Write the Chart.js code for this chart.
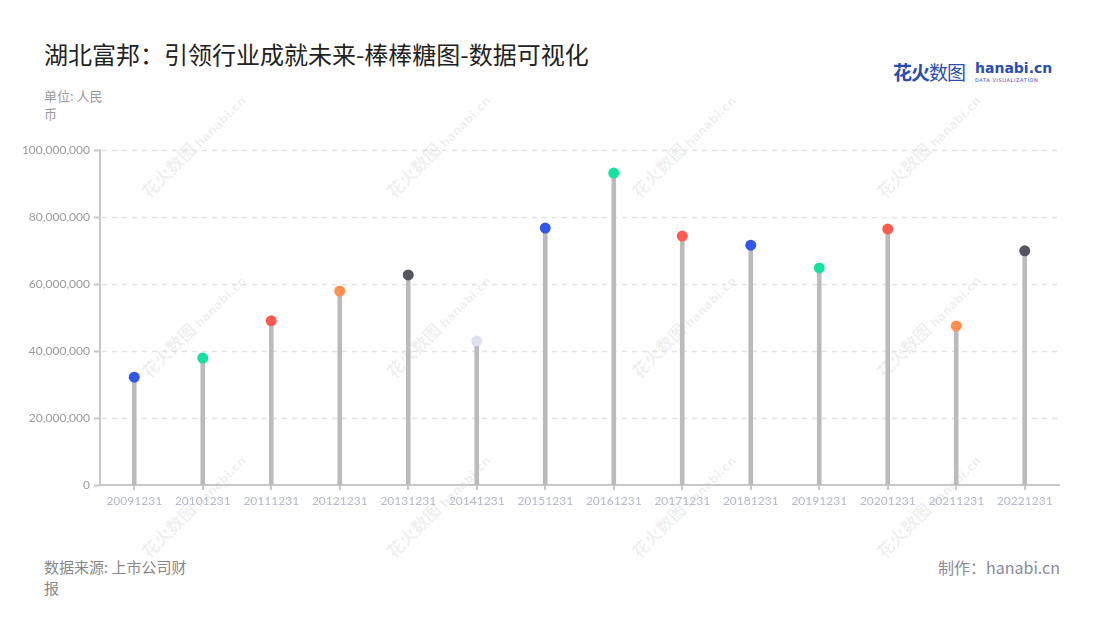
<!DOCTYPE html>
<html>
<head>
<meta charset="utf-8">
<script src="https://cdn.jsdelivr.net/npm/chart.js@4"></script>
<style>
    body { margin: 0; width: 1100px; height: 620px; background: #fff; position: relative; overflow: hidden;
           font-family: "Noto Sans CJK SC", "Noto Sans", sans-serif; }
    .title { position: absolute; left: 44px; top: 36px; font-size: 24px; color: #222; }
    .unit { position: absolute; left: 44px; top: 87px; width: 70px; font-size: 13px; line-height: 18px; color: #999; }
    .source { position: absolute; left: 44px; top: 556px; width: 150px; font-size: 15px; line-height: 21px; color: #888; }
    .maker { position: absolute; right: 40px; top: 555px; font-size: 16px; color: #8a8a98; }
    .logo { position: absolute; left: 893px; top: 58px; color: #2a4cb0; }
    .logo .cn { font-size: 19px; font-weight: bold; letter-spacing: -1px; }
    .logo .cn i { font-style: normal; font-weight: normal; }
    .logo .en { position: absolute; left: 82px; top: 2px; font-size: 14px; font-weight: bold; font-family: "DejaVu Sans", sans-serif; white-space: nowrap; }
    .logo .sub { position: absolute; left: 82px; top: 19px; font-size: 5px; letter-spacing: 0.6px; white-space: nowrap; font-family: "DejaVu Sans", sans-serif; }
    .wm { position: absolute; color: rgba(0,0,0,0.07); font-size: 17px; font-weight: bold; white-space: nowrap;
          transform-origin: 0 0; transform: rotate(-45deg); }
    .wm small { font-size: 12px; font-family: "DejaVu Sans", sans-serif; }
    #wrap { position: absolute; left: 0; top: 130px; width: 1080px; height: 400px; }
</style>
</head>
<body>
<div class="title">湖北富邦：引领行业成就未来-棒棒糖图-数据可视化</div>
<div class="unit">单位: 人民币</div>
<div class="logo"><span class="cn">花火<i>数图</i></span><span class="en">hanabi.cn</span><span class="sub">DATA VISUALIZATION</span></div>
<div id="marks"></div>
<div id="wrap"><canvas id="chart"></canvas></div>
<div class="source">数据来源: 上市公司财报</div>
<div class="maker">制作：hanabi.cn</div>

<script>
// Data
const categories = ['20091231', '20101231', '20111231', '20121231', '20131231', '20141231', '20151231',
    '20161231', '20171231', '20181231', '20191231', '20201231', '20211231', '20221231'];
const values = [32200000, 37900000, 49000000, 57900000, 62700000, 43000000, 76700000,
    93100000, 74300000, 71600000, 64800000, 76400000, 47500000, 69900000];
const dotColors = ['#3456e8', '#17e0a0', '#ff5a50', '#ff8f4f', '#55555f', '#dde2ec', '#3456e8',
    '#17e0a0', '#ff5a50', '#3456e8', '#17e0a0', '#ff5a50', '#ff8f4f', '#55555f'];
const yTicks = [0, 20000000, 40000000, 60000000, 80000000, 100000000];

// Watermarks in the background
const marks = document.getElementById('marks');
[185, 365, 545].forEach(function(y) {
    [135, 380, 625, 870].forEach(function(x) {
        const d = document.createElement('div');
        d.className = 'wm';
        d.style.left = x + 'px';
        d.style.top = y + 'px';
        d.innerHTML = '花火数图 <small>hanabi.cn</small>';
        marks.appendChild(d);
    });
});

const ctx = document.getElementById('chart');

new Chart(ctx, {
    data: {
        labels: categories,
        datasets: [{
            type: 'line',
            data: values,
            showLine: false,
            pointRadius: 5.5,
            pointHoverRadius: 5.5,
            pointBorderWidth: 0,
            pointBackgroundColor: dotColors,
            order: 0
        }, {
            type: 'bar',
            data: values,
            backgroundColor: '#bbbbbb',
            barThickness: 4,
            order: 1
        }]
    },
    options: {
        responsive: true,
        maintainAspectRatio: false,
        animation: false,
        layout: { padding: { top: 20, right: 21, left: 0, bottom: 0 } },
        plugins: {
            legend: { display: false },
            tooltip: { enabled: false }
        },
        scales: {
            x: {
                offset: true,
                grid: { display: true, drawOnChartArea: false, offset: false, tickLength: 5, color: '#c8c8c8', lineWidth: 2 },
                border: { color: '#c8c8c8', width: 2 },
                ticks: { color: '#b4b8c8', font: { size: 12, family: 'Lato, "Noto Sans", sans-serif' }, maxRotation: 0, autoSkip: false, padding: 4 },
                afterFit: function(scale) { scale.height = 45; }
            },
            y: {
                min: 0,
                max: 100000000,
                afterBuildTicks: function(scale) { scale.ticks = yTicks.map(v => ({ value: v })); },
                grid: { display: false },
                border: { display: true, color: '#c8c8c8', width: 2 },
                ticks: {
                    color: '#9a9a9a',
                    font: { size: 12, family: 'Lato, "Noto Sans", sans-serif' },
                    padding: 2,
                    callback: v => v.toLocaleString('en-US')
                },
                afterFit: function(scale) { scale.width = 100; }
            }
        }
    },
    plugins: [{
        // dashed horizontal grid lines and short y tick marks
        id: 'dashGrid',
        beforeDatasetsDraw(chart) {
            const { ctx, chartArea, scales: { y } } = chart;
            ctx.save();
            y.ticks.forEach(t => {
                const py = Math.round(y.getPixelForValue(t.value)) + 0.5;
                if (t.value > 0) {
                    ctx.strokeStyle = '#e2e2e2';
                    ctx.lineWidth = 1.5;
                    ctx.setLineDash([5, 5]);
                    ctx.beginPath();
                    ctx.moveTo(chartArea.left + 2, py);
                    ctx.lineTo(chartArea.right, py);
                    ctx.stroke();
                }
                ctx.strokeStyle = '#c8c8c8';
                ctx.lineWidth = 2;
                ctx.setLineDash([]);
                ctx.beginPath();
                ctx.moveTo(chartArea.left - 6, py);
                ctx.lineTo(chartArea.left, py);
                ctx.stroke();
            });
            ctx.restore();
        }
    }]
});
</script>
</body>
</html>
